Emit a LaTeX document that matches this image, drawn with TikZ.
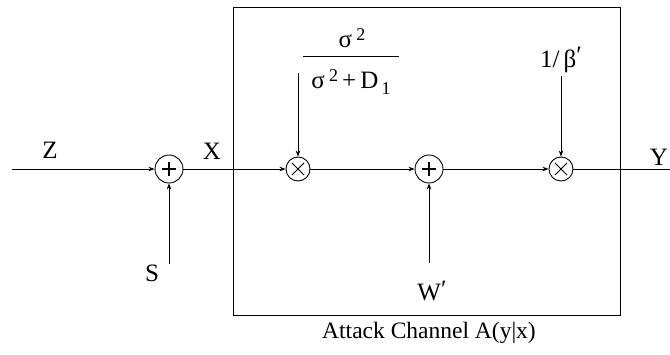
\documentclass[tikz,border=0pt]{standalone}
\usepackage{fontspec}
\setmainfont{Liberation Serif}
\usetikzlibrary{arrows.meta}
\tikzset{
  lbl/.style={font=\fontsize{25}{29}\selectfont, inner sep=0pt},
  capt/.style={font=\fontsize{23.5}{27}\selectfont, inner sep=0pt},
  sumnode/.style={circle, draw, line width=0.9pt, minimum size=28pt, inner sep=0pt,
    path picture={\draw[line width=1.1pt] ([xshift=-7pt]path picture bounding box.center) -- ([xshift=7pt]path picture bounding box.center)
      ([yshift=-7pt]path picture bounding box.center) -- ([yshift=7pt]path picture bounding box.center);}},
  mulnode/.style={circle, draw, line width=0.9pt, minimum size=24pt, inner sep=0pt,
    path picture={\draw[line width=1pt] ([xshift=-6pt,yshift=-6pt]path picture bounding box.center) -- ([xshift=6pt,yshift=6pt]path picture bounding box.center)
      ([xshift=-6pt,yshift=6pt]path picture bounding box.center) -- ([xshift=6pt,yshift=-6pt]path picture bounding box.center);}},
  arr/.style={-{Stealth[length=6pt,width=4.5pt]}, line width=0.8pt},
  wire/.style={line width=0.8pt},
  boxline/.style={line width=1pt}
}
\newcommand{\supsz}{\fontsize{18}{20}\selectfont}
\begin{document}
\begin{tikzpicture}[x=1pt,y=-1pt]
\useasboundingbox (0,0) rectangle (670,355);
% box
\draw[boxline] (233,8) rectangle (620,316);
% blocks
\node[sumnode] (add1) at (169,169) {};
\node[mulnode] (mul1) at (298,169) {};
\node[sumnode] (add2) at (429,169) {};
\node[mulnode] (mul2) at (561,169) {};
% endpoints
\coordinate (zin) at (12,169);
\coordinate (sin) at (169,264);
\coordinate (win) at (429,263);
\coordinate (fin) at (298,73);
\coordinate (bin) at (561,76);
\coordinate (yout) at (670,169);
% labels
\node[lbl] (Z) at (50,150) {Z};
\node[lbl] (X) at (212,151) {X};
\node[lbl] (S) at (152,273) {S};
\node[lbl] (W) at (432,291) {W\raisebox{0.25ex}{′}};
\node[lbl] (Y) at (659,157) {Y};
\node[lbl] (num) at (352,38) {σ\,\raisebox{0.65ex}{\supsz 2}};
\node[lbl] (den) at (351,82) {σ\,\raisebox{0.65ex}{\supsz 2}\,+\,D\raisebox{-0.5ex}{\supsz\,1}};
\coordinate (barl) at (303,57);
\coordinate (barr) at (399,57);
\draw[line width=1pt] (barl) -- (barr);
\node[lbl] (beta) at (561,60) {1/\,β\raisebox{0.3ex}{′}};
\node[capt] (cap) at (429,333) {Attack Channel A(y|x)};
% connectors
\draw[arr] (zin) -- (add1);
\draw[arr] (sin) -- (add1);
\draw[arr] (add1) -- (mul1);
\draw[arr] (fin) -- (mul1);
\draw[arr] (mul1) -- (add2);
\draw[arr] (win) -- (add2);
\draw[arr] (add2) -- (mul2);
\draw[arr] (bin) -- (mul2);
\draw[wire] (mul2) -- (yout);
\end{tikzpicture}
\end{document}
